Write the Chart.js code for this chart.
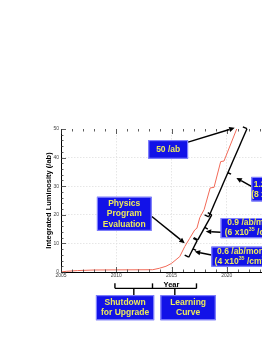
<!DOCTYPE html>
<html>
<head>
<meta charset="utf-8">
<script src="https://cdn.jsdelivr.net/npm/chart.js@4/dist/chart.umd.min.js"></script>
<style>
  html, body { margin:0; padding:0; background:#fff; overflow:hidden; width:262px; height:339px; }
  canvas { display:block; }
</style>
</head>
<body>
<canvas id="lumi" width="300" height="339"></canvas>
<script>
'use strict';

/* ─── Data ─────────────────────────────────────────────────────── */
const years = [2005, 2005.5, 2006.5, 2008, 2013.3, 2013.9, 2014.5, 2015.0, 2015.75, 2016.2,
               2016.65, 2017.1, 2017.3, 2017.56, 2017.95, 2018.5, 2018.85, 2019.45, 2019.75, 2020.9];
const lumi  = [0, 0.25, 0.5, 0.7, 0.8, 1.3, 2.0, 3.0, 5.4, 8.9,
               11.8, 14.7, 15.3, 19.0, 21.8, 29.4, 29.6, 38.6, 38.8, 50];

const xRange = [2005, 2025];
const yRange = [0, 50];

/* ─── Annotations, all in data units (year, /ab) ───────────────── */
const SUP = s => ({ sup: s });
const notes = [
  { text: [['50 /ab']],                              box: [2012.9, 46.1, 2016.5, 39.6] },
  { text: [['Physics'], ['Program'], ['Evaluation']], box: [2008.25, 26.3, 2013.2, 14.4] },
  { text: [['1.2 /ab/month'], ['(8 x10', SUP('35'), ' /cm', SUP('2'), '/s)']], box: [2022.23, 33.25, 2027.6, 24.68] },
  { text: [['0.9 /ab/month'], ['(6 x10', SUP('35'), ' /cm', SUP('2'), '/s)']], box: [2019.45, 18.86, 2025.6, 11.83] },
  { text: [['0.6 /ab/month'], ['(4 x10', SUP('35'), ' /cm', SUP('2'), '/s)']], box: [2018.61, 8.88, 2024.6, 1.86] },
  { text: [['Shutdown'], ['for Upgrade']],            box: [2008.16, -8.1, 2013.43, -16.85] },
  { text: [['Learning'], ['Curve']],                  box: [2014.0, -8.1, 2019.0, -16.85] },
];
const arrows = [
  [2016.5, 45.4, 2020.72, 50.4],
  [2013.22, 19.42, 2016.2, 10.08],
  [2019.45, 13.94, 2018.1, 14.15],
  [2018.61, 5.97, 2017.1, 7.13],
  [2022.23, 29.95, 2020.87, 32.9],
];
const braces = [
  [2021.83, 50.1, 2018.37, 19.31],
  [2018.64, 20.0, 2017.38, 11.24],
  [2017.33, 11.06, 2016.56, 5.16],
];
/* bracket under the x axis: ends, split point, and drops to the boxes */
const axisBrace = { ends: [2009.88, 2013.28, 2017.26], drops: [2011.59, 2015.30], yLine: -5.72, yTop: -3.97, yDrop: -8.1 };

const FONT = '"Liberation Sans", Arial, sans-serif';

/* ─── Drawing helpers ──────────────────────────────────────────── */
function seg(ctx, x0, y0, x1, y1) {
  ctx.beginPath(); ctx.moveTo(x0, y0); ctx.lineTo(x1, y1); ctx.stroke();
}

function richLine(ctx, parts, cx, cy, size) {
  const segs = parts.map(p => typeof p === 'string' ? { t: p, sup: false } : { t: p.sup, sup: true });
  const font = sup => `bold ${sup ? size * 0.62 : size}px ${FONT}`;
  let w = 0;
  segs.forEach(s => { ctx.font = font(s.sup); s.w = ctx.measureText(s.t).width; w += s.w; });
  let xx = cx - w / 2;
  segs.forEach(s => {
    ctx.font = font(s.sup);
    ctx.fillText(s.t, xx, s.sup ? cy - size * 0.38 : cy);
    xx += s.w;
  });
}

const annotPlugin = {
  id: 'annot',
  afterDraw(chart) {
    const { ctx, chartArea: a } = chart;
    const sx = chart.scales.x, sy = chart.scales.y;
    const px = v => sx.getPixelForValue(v), py = v => sy.getPixelForValue(v);
    ctx.save();

    /* inner ticks: minor every year / 2 ab, major every 5 yr / 10 ab */
    ctx.strokeStyle = '#333'; ctx.lineWidth = 0.8;
    for (let yr = xRange[0]; yr <= xRange[1]; yr++) {
      const len = yr % 5 ? 2.5 : 5, xx = Math.round(px(yr)) + 0.5;
      seg(ctx, xx, a.bottom, xx, a.bottom - len);
      seg(ctx, xx, a.top, xx, a.top + len);
    }
    for (let v = yRange[0]; v <= yRange[1]; v += 2) {
      const len = v % 10 ? 2.5 : 5, yy = Math.round(py(v)) + 0.5;
      seg(ctx, a.left, yy, a.left + len, yy);
    }

    /* braces along the curve */
    ctx.strokeStyle = '#000'; ctx.lineWidth = 1.4;
    braces.forEach(([x0, y0, x1, y1]) => {
      const X0 = px(x0), Y0 = py(y0), X1 = px(x1), Y1 = py(y1);
      const L = Math.hypot(X1 - X0, Y1 - Y0), dx = (X1 - X0) / L, dy = (Y1 - Y0) / L;
      const rx = dy > 0 ? dy : -dy, ry = -dx; /* points right/down */
      seg(ctx, X0, Y0, X1, Y1);
      seg(ctx, X0, Y0, X0 - rx * 4.5, Y0 - ry * 4.5);
      seg(ctx, X1, Y1, X1 - rx * 4.5, Y1 - ry * 4.5);
      const mx = (X0 + X1) / 2, my = (Y0 + Y1) / 2;
      seg(ctx, mx, my, mx + rx * 3.5, my + ry * 3.5);
    });

    /* bracket under the axis */
    const b = axisBrace;
    seg(ctx, px(b.ends[0]), py(b.yLine), px(b.ends[2]), py(b.yLine));
    b.ends.forEach(e => seg(ctx, px(e), py(b.yLine), px(e), py(b.yTop)));
    b.drops.forEach(d => seg(ctx, px(d), py(b.yLine), px(d), py(b.yDrop)));

    /* arrows */
    ctx.fillStyle = '#000'; ctx.lineWidth = 1.5;
    arrows.forEach(([x0, y0, x1, y1]) => {
      const X0 = px(x0), Y0 = py(y0), X1 = px(x1), Y1 = py(y1);
      const ang = Math.atan2(Y1 - Y0, X1 - X0), hl = 5.5, hw = 2.6;
      const bx = X1 - Math.cos(ang) * hl, by = Y1 - Math.sin(ang) * hl;
      seg(ctx, X0, Y0, bx, by);
      ctx.beginPath();
      ctx.moveTo(X1, Y1);
      ctx.lineTo(bx + Math.sin(ang) * hw, by - Math.cos(ang) * hw);
      ctx.lineTo(bx - Math.sin(ang) * hw, by + Math.cos(ang) * hw);
      ctx.closePath(); ctx.fill();
    });

    /* blue label boxes */
    ctx.textBaseline = 'middle'; ctx.textAlign = 'left';
    notes.forEach(n => {
      const [x0, y0, x1, y1] = n.box;
      const L = px(x0), T = py(y0), R = px(x1), B = py(y1);
      ctx.fillStyle = '#1212e8';
      ctx.fillRect(L, T, R - L, B - T);
      ctx.strokeStyle = '#8c8cff'; ctx.lineWidth = 1;
      ctx.strokeRect(L + 0.5, T + 0.5, R - L - 1, B - T - 1);
      ctx.fillStyle = '#ecea5c';
      const lh = n.text.length > 2 ? 10.5 : 10;
      const cy = (T + B) / 2 - (n.text.length - 1) * lh / 2;
      n.text.forEach((line, i) => richLine(ctx, line, (L + R) / 2, cy + i * lh, 8.5));
    });
    ctx.restore();
  }
};

/* ─── Chart ────────────────────────────────────────────────────── */
const gridColor = c => (c.tick && (c.tick.value === c.scale.min || c.tick.value === c.scale.max)) ? 'rgba(0,0,0,0)' : '#e0e0e0';

new Chart(document.getElementById('lumi'), {
  type: 'line',
  data: {
    datasets: [{
      data: years.map((yr, i) => ({ x: yr, y: lumi[i] })),
      borderColor: '#f26a58',
      borderWidth: 1,
      pointRadius: 0,
      tension: 0,
      fill: false,
    }]
  },
  options: {
    responsive: false,
    animation: false,
    events: [],
    layout: { padding: { top: 129, right: 18, bottom: 0, left: 0 } },
    plugins: { legend: { display: false }, tooltip: { enabled: false } },
    scales: {
      x: {
        type: 'linear', min: xRange[0], max: xRange[1],
        ticks: { stepSize: 5, color: '#444', padding: 1, maxRotation: 0, autoSkip: false,
                 font: { family: FONT, size: 5 }, callback: v => String(v) },
        grid: { color: gridColor, lineWidth: 0.8, drawTicks: false },
        border: { color: '#000', width: 1, dash: [1.5, 1.5] },
        title: { display: true, text: 'Year', color: '#000',
                 font: { family: FONT, size: 7.5, weight: 'bold' }, padding: { top: 0, bottom: 49.5 } },
        afterFit: s => { s.height = 67; }
      },
      y: {
        min: yRange[0], max: yRange[1],
        ticks: { stepSize: 10, color: '#444', padding: 2, font: { family: FONT, size: 5 } },
        grid: { color: gridColor, lineWidth: 0.8, drawTicks: false },
        border: { color: '#000', width: 1, dash: [1.5, 1.5] },
        title: { display: true, text: 'Integrated Luminosity (/ab)', color: '#000',
                 font: { family: FONT, size: 7.5, weight: 'bold' }, padding: { top: 44, bottom: 0 } },
        afterFit: s => { s.width = 61; }
      }
    }
  },
  plugins: [annotPlugin]
});
</script>
</body>
</html>
